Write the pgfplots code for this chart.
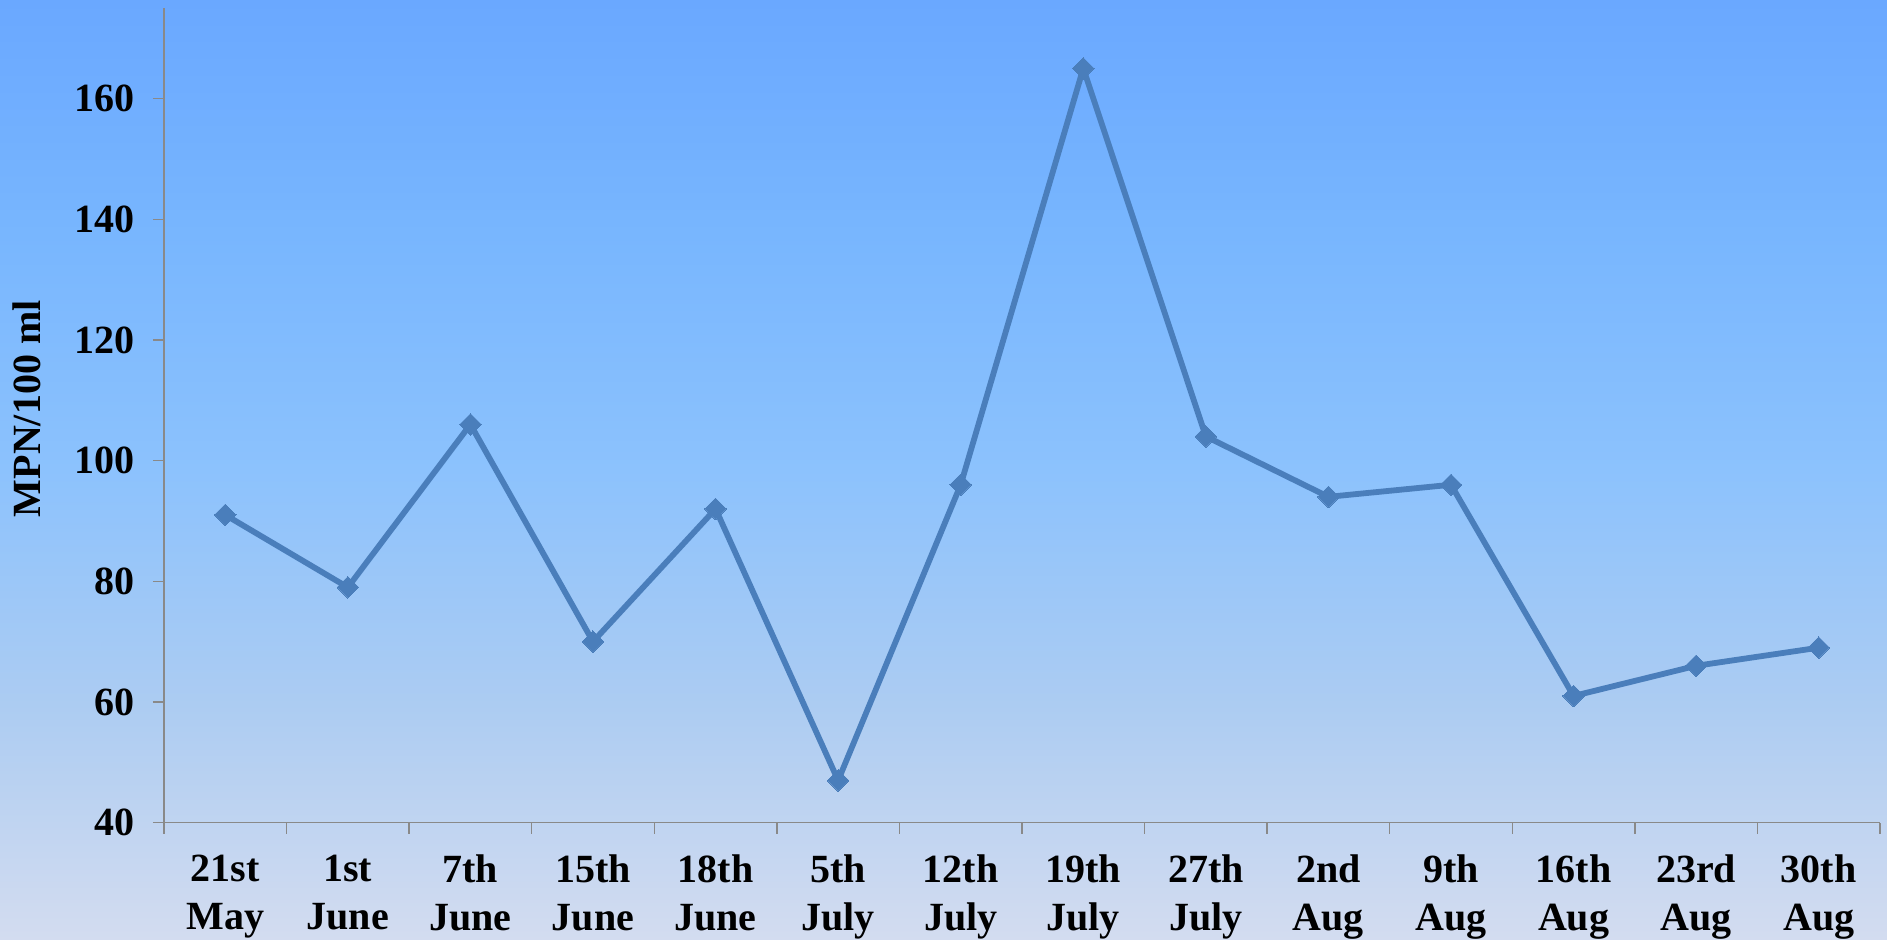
\documentclass[border=0pt]{standalone}
\usepackage{pgfplots}
\pgfplotsset{compat=1.18}
\usepackage{fontspec}
\setmainfont{Liberation Serif}
\definecolor{cbot}{RGB}{211,220,240}
\definecolor{cthree}{RGB}{172,204,242}
\definecolor{cmid}{RGB}{140,194,253}
\definecolor{cq}{RGB}{120,182,254}
\definecolor{ctop}{RGB}{106,168,255}
\definecolor{axgray}{RGB}{137,137,137}
\definecolor{series}{RGB}{74,126,187}
\pgfdeclareverticalshading{bg}{100bp}{color(0bp)=(cbot); color(25bp)=(cbot); color(37.5bp)=(cthree); color(50bp)=(cmid); color(62.5bp)=(cq); color(75bp)=(ctop); color(100bp)=(ctop)}
\begin{document}
\begin{tikzpicture}
\fill[shading=bg] (-82pt,-58.15pt) rectangle (861.5pt,411.35pt);
\begin{axis}[
  at={(0,0)}, anchor=south west,
  scale only axis,
  width=858pt, height=407.35pt,
  xmin=-0.5, xmax=13.5,
  ymin=40, ymax=175,
  axis x line*=bottom, axis y line*=left,
  axis line style={draw=axgray, line width=0.7pt},
  every tick/.style={draw=axgray, line width=0.7pt},
  tick align=outside,
  major tick length=5.5pt,
  xtick={-0.5,0.5,...,13.5},
  x tick label as interval,
  xticklabels={{21st\\May},{1st\\June},{7th\\June},{15th\\June},{18th\\June},{5th\\July},{12th\\July},{19th\\July},{27th\\July},{2nd\\Aug},{9th\\Aug},{16th\\Aug},{23rd\\Aug},{30th\\Aug}},
  xticklabel style={align=center, font=\fontsize{20}{24}\selectfont\bfseries, yshift=-7pt},
  ytick={40,60,...,160},
  yticklabel style={font=\fontsize{20}{22.5}\selectfont\bfseries, xshift=-5.5pt},
  /pgf/number format/assume math mode=true,
  ylabel={MPN/100 ml},
  every axis y label/.style={at={(axis description cs:0,0.508)}, xshift=-68.75pt, rotate=90, anchor=center, font=\fontsize{20}{24}\selectfont\bfseries},
  clip=false,
]
\addplot[color=series, line width=2.9pt, mark=square*, mark size=3.8pt, mark options={rotate=45, line width=0pt, fill=series}] coordinates {
(0,91) (1,79) (2,106) (3,70) (4,92) (5,47) (6,96) (7,165) (8,104) (9,94) (10,96) (11,61) (12,66) (13,69)
};
\end{axis}
\pgfresetboundingbox
\path (-82pt,-58.15pt) rectangle (861.5pt,411.35pt);
\end{tikzpicture}
\end{document}
